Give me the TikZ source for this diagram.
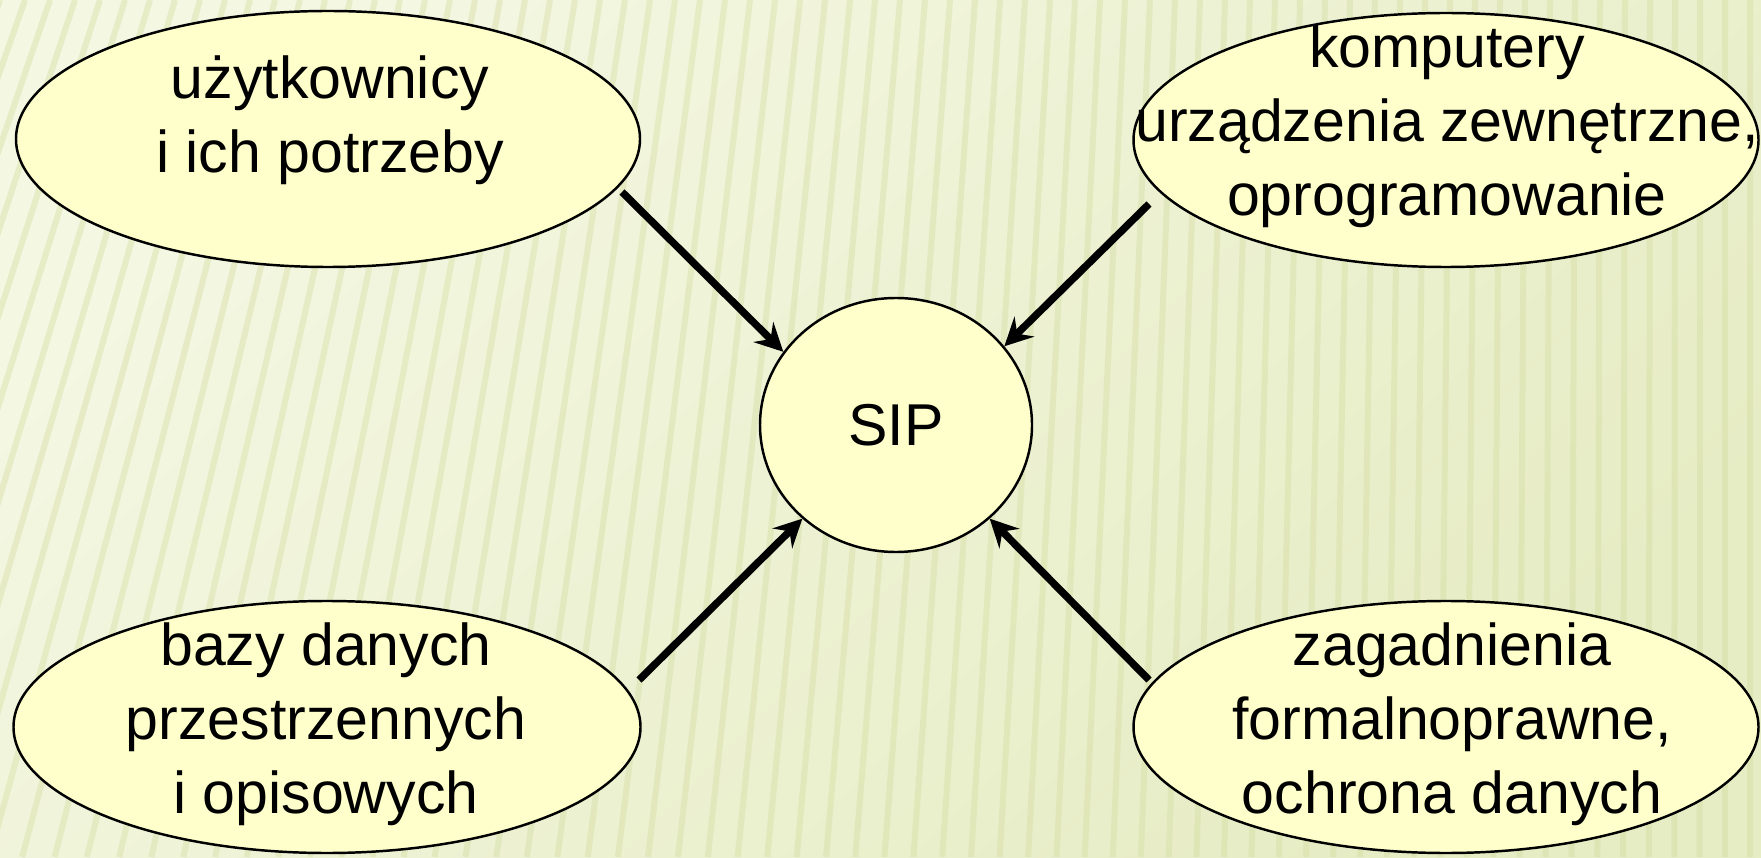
\documentclass[tikz,border=0pt]{standalone}
\usepackage{fontspec}
\setmainfont{Liberation Sans}
\usetikzlibrary{arrows.meta,shapes.geometric}
\definecolor{bgpale}{HTML}{F4F7E2}
\definecolor{bgdeep}{HTML}{E6ECC4}
\definecolor{stripe}{HTML}{D3DC9E}
\definecolor{bubblefill}{HTML}{FFFFCC}
\tikzset{
  bubble/.style={ellipse, draw=black, line width=0.7pt, fill=bubblefill, inner sep=0pt,
    font=\fontsize{16.8}{21}\selectfont},
  note/.style={align=center, font=\fontsize{16.8}{21}\selectfont},
  link/.style={line width=2.1pt, -{Stealth[length=2.8mm,width=2.8mm,inset=1mm]}}
}

\begin{document}
\begin{tikzpicture}
\useasboundingbox (0,0) rectangle (17.61,8.57);
\shade[top color=bgpale, bottom color=bgdeep, shading angle=45] (0,0) rectangle (17.61,8.57);
\begin{scope}
\clip (0,0) rectangle (17.61,8.57);
\foreach \x in {0,0.25,...,18}
  \draw[stripe, line width=0.06cm, opacity=0.4] (\x,8.57) -- ({\x-0.01*(17.6-\x)^2},0);
\end{scope}

\path (3.28,7.18) node[bubble, minimum width=6.24cm, minimum height=2.56cm] (usr) {}
      (14.46,7.17) node[bubble, minimum width=6.25cm, minimum height=2.54cm] (hw) {}
      (3.27,1.30) node[bubble, minimum width=6.27cm, minimum height=2.52cm] (db) {}
      (14.46,1.30) node[bubble, minimum width=6.25cm, minimum height=2.52cm] (law) {}
      (8.96,4.32) node[bubble, minimum width=2.72cm, minimum height=2.54cm] (sip) {SIP};

\path (3.30,7.37) node[note] (usr-t) {użytkownicy\\i ich potrzeby}
      (14.47,7.31) node[note] (hw-t) {komputery\\urządzenia zewnętrzne,\\oprogramowanie}
      (3.26,1.33) node[note] (db-t) {bazy danych\\przestrzennych\\i opisowych}
      (14.52,1.33) node[note] (law-t) {zagadnienia\\formalnoprawne,\\ochrona danych};

\coordinate (usr-out) at (6.22,6.65);
\coordinate (hw-out) at (11.49,6.53);
\coordinate (db-out) at (6.39,1.77);
\coordinate (law-out) at (11.49,1.77);

\draw[link] (usr-out) -- (node cs:name=sip, angle=147);
\draw[link] (hw-out) -- (node cs:name=sip, angle=36);
\draw[link] (db-out) -- (node cs:name=sip, angle=225);
\draw[link] (law-out) -- (node cs:name=sip, angle=-45);
\end{tikzpicture}
\end{document}
